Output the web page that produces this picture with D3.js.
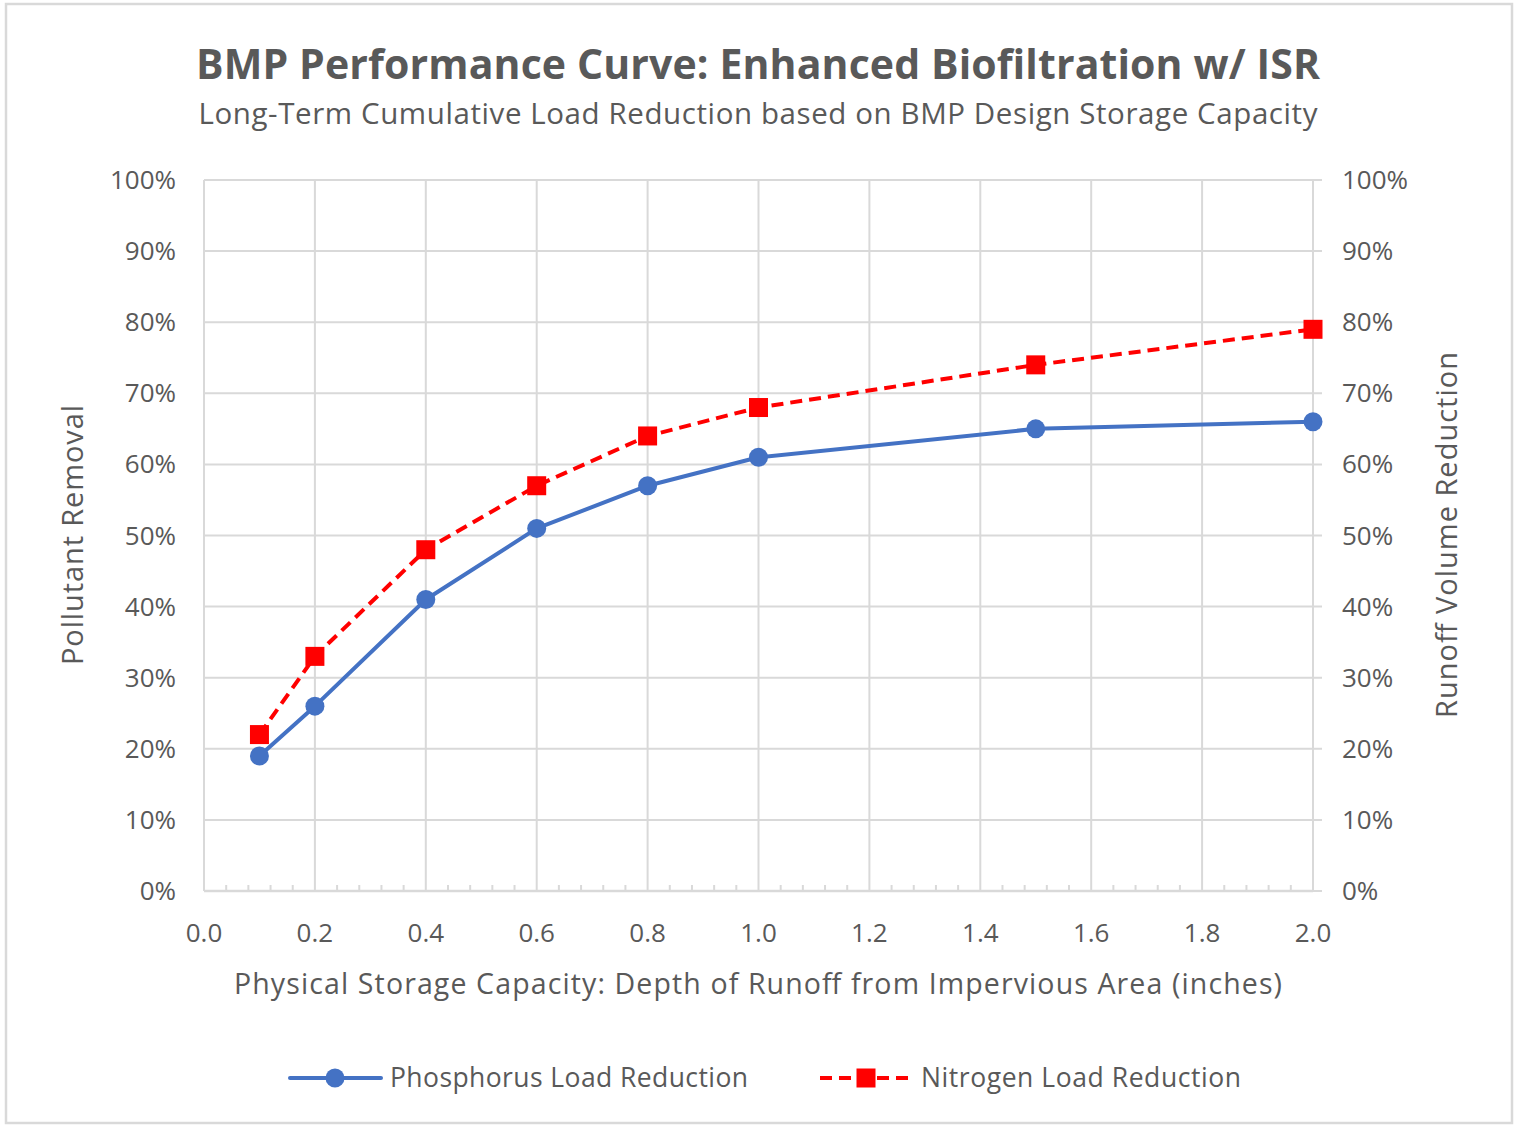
<!DOCTYPE html>
<head>
  <meta charset="utf-8">
  <script src="https://cdn.jsdelivr.net/npm/d3@7"></script>
  <style>
    body { margin: 0; background: #fff; }
    text { font-family: "Open Sans", "Noto Sans", sans-serif; fill: #595959; }
  </style>
</head>
<body>

<svg width="1522" height="1126"></svg>

<script type="text/javascript">
// Chart data
var depths = [0.1, 0.2, 0.4, 0.6, 0.8, 1.0, 1.5, 2.0];
var phosphorus = [0.19, 0.26, 0.41, 0.51, 0.57, 0.61, 0.65, 0.66];
var nitrogen = [0.22, 0.33, 0.48, 0.57, 0.64, 0.68, 0.74, 0.79];
var seriesNames = ["Phosphorus Load Reduction", "Nitrogen Load Reduction"];
var xTicks = [0, 0.2, 0.4, 0.6, 0.8, 1.0, 1.2, 1.4, 1.6, 1.8, 2.0];
var yTicks = [0, 0.1, 0.2, 0.3, 0.4, 0.5, 0.6, 0.7, 0.8, 0.9, 1.0];

var gridColor = "#d9d9d9",
    blue = "#4472c4",
    red = "#ff0000";

var svg = d3.select("svg");

// outer chart border
svg.append("rect")
  .attr("x", 6).attr("y", 4)
  .attr("width", 1506).attr("height", 1119)
  .attr("fill", "#fff")
  .attr("stroke", gridColor)
  .attr("stroke-width", 2.5);

var x = d3.scaleLinear().domain([0, 2]).range([204, 1313]);
var y = d3.scaleLinear().domain([0, 1]).range([891, 180]);
var pct = d3.format(".0%");

// gridlines
svg.append("g").selectAll("line.h")
  .data(yTicks.slice(1))
  .enter().append("line")
  .attr("x1", x(0)).attr("x2", x(2) + 9)
  .attr("y1", function(d) { return y(d); })
  .attr("y2", function(d) { return y(d); })
  .attr("stroke", gridColor).attr("stroke-width", 2);

svg.append("g").selectAll("line.v")
  .data(xTicks.slice(1, -1))
  .enter().append("line")
  .attr("x1", function(d) { return x(d); })
  .attr("x2", function(d) { return x(d); })
  .attr("y1", y(1)).attr("y2", y(0))
  .attr("stroke", gridColor).attr("stroke-width", 2);

// left axis line
svg.append("line")
  .attr("x1", x(0)).attr("x2", x(0))
  .attr("y1", y(1)).attr("y2", y(0))
  .attr("stroke", gridColor).attr("stroke-width", 2);

// right axis line with outside ticks
svg.append("line")
  .attr("x1", x(2)).attr("x2", x(2))
  .attr("y1", y(1)).attr("y2", y(0))
  .attr("stroke", gridColor).attr("stroke-width", 2);
svg.append("line")
  .attr("x1", x(2)).attr("x2", x(2) + 9)
  .attr("y1", y(0)).attr("y2", y(0))
  .attr("stroke", gridColor).attr("stroke-width", 2);

// bottom axis with minor ticks inside
svg.append("line")
  .attr("x1", x(0)).attr("x2", x(2))
  .attr("y1", y(0)).attr("y2", y(0))
  .attr("stroke", gridColor).attr("stroke-width", 2.5);

var minor = d3.range(0, 51).map(function(i) { return i * 0.04; })
  .filter(function(d, i) { return i % 5 !== 0; });
svg.append("g").selectAll("line")
  .data(minor)
  .enter().append("line")
  .attr("x1", function(d) { return x(d); })
  .attr("x2", function(d) { return x(d); })
  .attr("y1", y(0)).attr("y2", y(0) - 6)
  .attr("stroke", gridColor).attr("stroke-width", 2);

// tick labels
svg.append("g").selectAll("text")
  .data(yTicks)
  .enter().append("text")
  .attr("x", 176)
  .attr("y", function(d) { return y(d) + 9; })
  .attr("text-anchor", "end")
  .attr("font-size", 26)
  .text(pct);

svg.append("g").selectAll("text")
  .data(yTicks)
  .enter().append("text")
  .attr("x", 1342)
  .attr("y", function(d) { return y(d) + 9; })
  .attr("font-size", 26)
  .text(pct);

svg.append("g").selectAll("text")
  .data(xTicks)
  .enter().append("text")
  .attr("x", function(d) { return x(d); })
  .attr("y", 942)
  .attr("text-anchor", "middle")
  .attr("font-size", 26)
  .text(d3.format(".1f"));

// titles
svg.append("text")
  .attr("x", 758).attr("y", 79)
  .attr("text-anchor", "middle")
  .attr("font-size", 41).attr("font-weight", "bold")
  .attr("textLength", 1124).attr("lengthAdjust", "spacing")
  .text("BMP Performance Curve: Enhanced Biofiltration w/ ISR");

svg.append("text")
  .attr("x", 758).attr("y", 124)
  .attr("text-anchor", "middle")
  .attr("font-size", 29.5)
  .attr("textLength", 1119).attr("lengthAdjust", "spacing")
  .text("Long-Term Cumulative Load Reduction based on BMP Design Storage Capacity");

svg.append("text")
  .attr("x", 758).attr("y", 994)
  .attr("text-anchor", "middle")
  .attr("font-size", 28.5)
  .attr("textLength", 1048).attr("lengthAdjust", "spacing")
  .text("Physical Storage Capacity: Depth of Runoff from Impervious Area (inches)");

svg.append("text")
  .attr("transform", "translate(83,535) rotate(-90)")
  .attr("text-anchor", "middle")
  .attr("font-size", 29)
  .attr("textLength", 260).attr("lengthAdjust", "spacing")
  .text("Pollutant Removal");

svg.append("text")
  .attr("transform", "translate(1457,535) rotate(-90)")
  .attr("text-anchor", "middle")
  .attr("font-size", 29)
  .attr("textLength", 366).attr("lengthAdjust", "spacing")
  .text("Runoff Volume Reduction");

// series
var line = d3.line()
  .x(function(d) { return x(d[0]); })
  .y(function(d) { return y(d[1]); });

var pData = d3.zip(depths, phosphorus),
    nData = d3.zip(depths, nitrogen);

svg.append("path")
  .datum(pData)
  .attr("d", line)
  .attr("fill", "none")
  .attr("stroke", blue).attr("stroke-width", 4)
  .attr("stroke-linejoin", "round");

svg.append("g").selectAll("circle")
  .data(pData)
  .enter().append("circle")
  .attr("cx", function(d) { return x(d[0]); })
  .attr("cy", function(d) { return y(d[1]); })
  .attr("r", 9.5)
  .attr("fill", blue);

svg.append("path")
  .datum(nData)
  .attr("d", line)
  .attr("fill", "none")
  .attr("stroke", red).attr("stroke-width", 4)
  .attr("stroke-dasharray", "12,7")
  .attr("stroke-linejoin", "round");

svg.append("g").selectAll("rect")
  .data(nData)
  .enter().append("rect")
  .attr("x", function(d) { return x(d[0]) - 9.5; })
  .attr("y", function(d) { return y(d[1]) - 9.5; })
  .attr("width", 19).attr("height", 19)
  .attr("fill", red);

// legend
var leg = svg.append("g");
leg.append("line")
  .attr("x1", 290).attr("x2", 381).attr("y1", 1078).attr("y2", 1078)
  .attr("stroke", blue).attr("stroke-width", 4).attr("stroke-linecap", "round");
leg.append("circle")
  .attr("cx", 335).attr("cy", 1078).attr("r", 9.5).attr("fill", blue);
leg.append("text")
  .attr("x", 390).attr("y", 1087)
  .attr("font-size", 26.5)
  .attr("textLength", 358).attr("lengthAdjust", "spacing")
  .text(seriesNames[0]);

leg.append("line")
  .attr("x1", 820).attr("x2", 912).attr("y1", 1078).attr("y2", 1078)
  .attr("stroke", red).attr("stroke-width", 4)
  .attr("stroke-dasharray", "12,7");
leg.append("rect")
  .attr("x", 856.5).attr("y", 1068.5).attr("width", 19).attr("height", 19)
  .attr("fill", red);
leg.append("text")
  .attr("x", 921).attr("y", 1087)
  .attr("font-size", 26.5)
  .attr("textLength", 320).attr("lengthAdjust", "spacing")
  .text(seriesNames[1]);
</script>
</body>
</html>
